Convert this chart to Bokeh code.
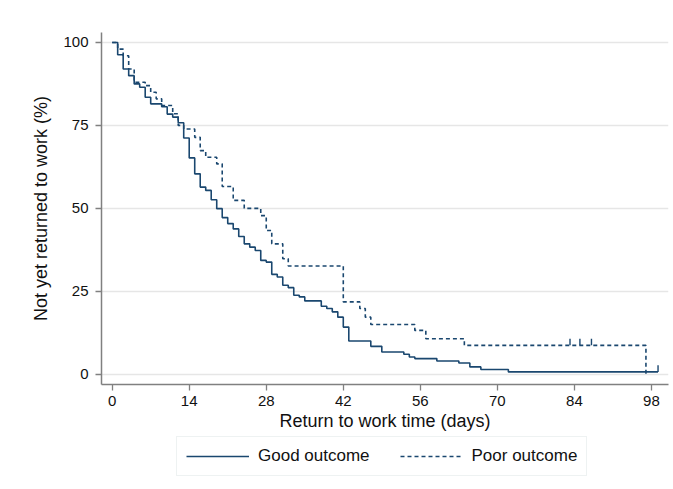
from bokeh.plotting import figure
from bokeh.models import Range1d, Legend, LegendItem, FixedTicker
from bokeh.layouts import column
from bokeh.embed import file_html
from bokeh.resources import INLINE

# ---- data ----
good_days = [0, 1, 2, 3, 4, 5, 6, 7, 9, 10, 11, 12, 13, 14, 15, 16, 17, 18, 19, 20,
             21, 22, 23, 24, 25, 26, 27, 28, 29, 30, 31, 32, 33, 34, 35, 38, 39, 40,
             41, 42, 43, 47, 49, 53, 54, 55, 59, 63, 65, 67, 72, 99.2]
good_surv = [100, 96.3, 92, 90, 87.5, 86.5, 83.5, 81.5, 80.6, 78.4, 77.5, 75.8, 71.2,
             65.2, 60.4, 56.4, 55.4, 52.6, 49.9, 47.2, 45.4, 43.8, 41.5, 39.3, 38.3,
             37.3, 34.3, 33.8, 30.1, 29.3, 26.8, 26.1, 23.8, 23.3, 22.1, 20.5, 19.8,
             18.8, 17.2, 14.2, 10.0, 8.4, 6.7, 6.0, 5.2, 4.7, 4.0, 3.4, 2.2, 1.4, 0.7, 0.7]

poor_days = [0, 1, 2, 3, 4, 6, 7, 8, 9, 11, 12, 13, 15, 16, 17, 19, 20, 22, 24, 27,
             28, 29, 31, 32, 42, 45, 46, 47, 55, 57, 64, 97]
poor_surv = [100, 98, 96, 92, 88, 87, 85, 83, 81, 78.5, 75, 73.9, 71.4, 67.4, 65.4,
             63.4, 56.6, 52.4, 50, 47.8, 43.3, 39.3, 34.8, 32.6, 21.8, 19.8, 17.2,
             15.0, 13.2, 10.7, 8.7, 0]

good_cens_days = [99.2]
good_cens_surv = [0.7]
poor_cens_days = [83.2, 85, 87.1]
poor_cens_surv = [8.7, 8.7, 8.7]

x_ticks = [0, 14, 28, 42, 56, 70, 84, 98]
y_ticks = [0, 25, 50, 75, 100]
series_labels = ["Good outcome", "Poor outcome"]

# ---- style ----
LINE = "#1a476f"
FONT = "Liberation Sans"
CENS_LEN = 2.0
DASH = "4 3"

p = figure(width=673, height=434, output_backend="svg", toolbar_location=None,
           x_range=Range1d(-1.94, 101.1), y_range=Range1d(-3.1, 103),
           min_border_left=101, min_border_right=5, min_border_top=32,
           min_border_bottom=50, outline_line_color=None,
           background_fill_color="white", border_fill_color="white")

p.xgrid.grid_line_color = None
p.ygrid.grid_line_color = "#e6e6e6"
p.ygrid.grid_line_width = 1.6

for ax in (p.xaxis[0], p.yaxis[0]):
    ax.axis_line_color = "#808080"
    ax.axis_line_width = 1.5
    ax.major_tick_line_color = "#808080"
    ax.major_tick_line_width = 1.3
    ax.major_tick_in = 0
    ax.major_tick_out = 6
    ax.minor_tick_line_color = None
    ax.major_label_text_font = FONT
    ax.major_label_text_font_size = "15px"
    ax.major_label_text_color = "#111111"
    ax.axis_label_text_font = FONT
    ax.axis_label_text_font_size = "18px"
    ax.axis_label_text_font_style = "normal"
    ax.axis_label_text_color = "#111111"

p.xaxis.ticker = FixedTicker(ticks=x_ticks)
p.yaxis.ticker = FixedTicker(ticks=y_ticks)
p.xaxis.axis_label = "Return to work time (days)"
p.yaxis.axis_label = "Not yet returned to work (%)"
p.xaxis.major_label_standoff = 5
p.xaxis.axis_label_standoff = 2
p.yaxis.major_label_standoff = 7
p.yaxis.axis_label_standoff = 9

p.step(good_days, good_surv, mode="after", line_color=LINE, line_width=1.6)
p.step(poor_days, poor_surv, mode="after", line_color=LINE, line_width=1.6,
       line_dash=DASH)

p.segment(x0=good_cens_days, y0=good_cens_surv, x1=good_cens_days,
          y1=[v + CENS_LEN for v in good_cens_surv], line_color=LINE, line_width=1.4)
p.segment(x0=poor_cens_days, y0=poor_cens_surv, x1=poor_cens_days,
          y1=[v + CENS_LEN for v in poor_cens_surv], line_color=LINE, line_width=1.4)

# ---- legend strip below the plot (frame aligned with the main plot) ----
q = figure(width=673, height=55, output_backend="svg", toolbar_location=None,
           x_range=Range1d(0, 1), y_range=Range1d(0, 1),
           min_border_left=101, min_border_right=5, min_border_top=0,
           min_border_bottom=0, outline_line_color=None,
           x_axis_type=None, y_axis_type=None,
           background_fill_color="white", border_fill_color="white")
q.xgrid.visible = False
q.ygrid.visible = False
# proxies for the legend glyphs (kept outside the strip's visible range)
lg_good = q.line([5, 6], [5, 6], line_color=LINE, line_width=1.6)
lg_poor = q.line([5, 6], [5, 6], line_color=LINE, line_width=1.6, line_dash=DASH)

legend = Legend(items=[LegendItem(label=series_labels[0], renderers=[lg_good]),
                       LegendItem(label=series_labels[1], renderers=[lg_poor])],
                orientation="horizontal", location=(75, 13))
legend.label_text_font = FONT
legend.label_text_font_size = "17px"
legend.label_text_color = "#111111"
legend.glyph_width = 63
legend.glyph_height = 18
legend.label_height = 18
legend.label_standoff = 9
legend.spacing = 30
legend.padding = 9
legend.margin = 0
legend.border_line_color = "#dde6e6"
legend.border_line_width = 1.2
legend.background_fill_color = "white"
q.add_layout(legend, "center")

layout = column(p, q, spacing=0)
open("out.html", "w").write(file_html(layout, INLINE))
